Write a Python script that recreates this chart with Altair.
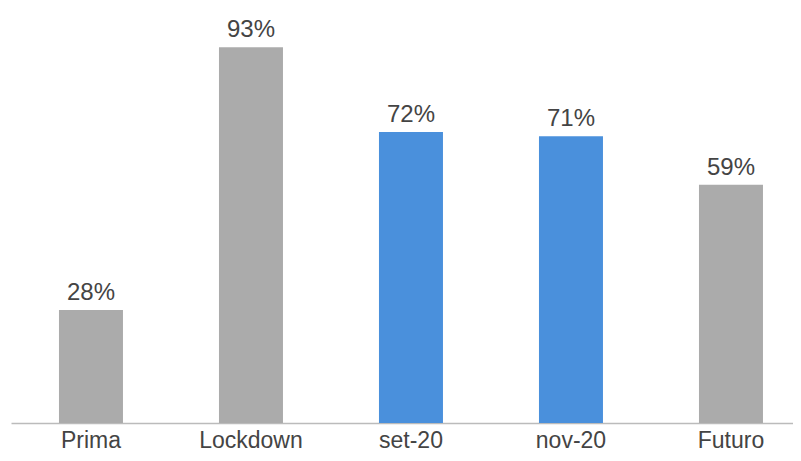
import altair as alt
import pandas as pd

categories = ["Prima", "Lockdown", "set-20", "nov-20", "Futuro"]
values = [28, 93, 72, 71, 59]
labels = ["28%", "93%", "72%", "71%", "59%"]
colors = ["#ABABAB", "#ABABAB", "#4A90DC", "#4A90DC", "#ABABAB"]

df = pd.DataFrame({"cat": categories, "val": values, "label": labels, "color": colors})

FONT = "Liberation Sans"

x = alt.X("cat:N", sort=categories, title=None,
          scale=alt.Scale(paddingInner=0.6, paddingOuter=0.24375, align=0.615),
          axis=alt.Axis(labelAngle=0, labelFont=FONT, labelFontSize=23,
                        labelColor="#444444", labelPadding=6, ticks=False,
                        domainColor="#BBBBBB", domainWidth=1.5, grid=False))
y = alt.Y("val:Q", scale=alt.Scale(domain=[0, 100]), axis=None)

bars = alt.Chart(df).mark_bar().encode(x=x, y=y, color=alt.Color("color:N", scale=None))
text = alt.Chart(df).mark_text(baseline="alphabetic", dy=-10, font=FONT, fontSize=24,
                               color="#444444").encode(x=x, y=y, text="label:N")

chart = (bars + text).properties(
    width=782, height=404,
    autosize=alt.AutoSizeParams(type="none"),
    padding={"left": 3, "top": 11, "right": 0, "bottom": 30}
).configure_view(stroke=None)

chart.save("out.html", embed_options={"renderer": "svg", "actions": False})
